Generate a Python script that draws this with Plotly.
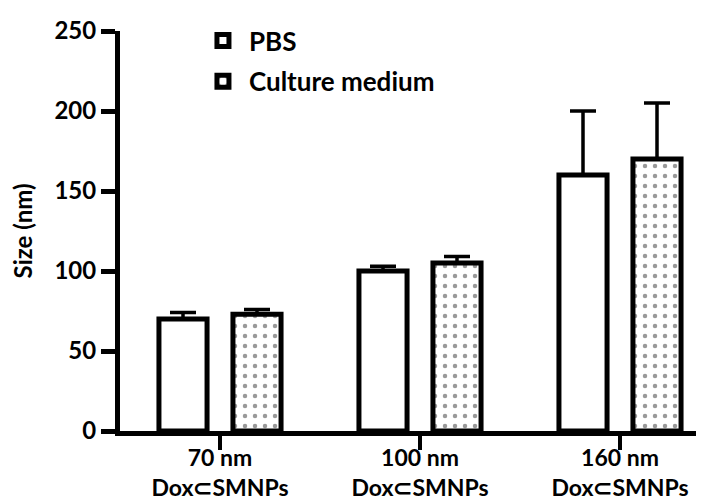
import plotly.graph_objects as go

categories = ["70 nm<br>Dox⊂SMNPs", "100 nm<br>Dox⊂SMNPs", "160 nm<br>Dox⊂SMNPs"]
series_names = ["PBS", "Culture medium"]
pbs_values = [70, 100, 160]
pbs_errors = [4, 3, 40]
cm_values = [73, 105, 170]
cm_errors = [3, 4, 35]
y_ticks = [0, 50, 100, 150, 200, 250]

FONT = "Lato"

fig = go.Figure()
fig.add_trace(go.Bar(
    x=categories, y=pbs_values, name=series_names[0],
    marker=dict(color="white", line=dict(color="black", width=5)),
    error_y=dict(type="data", array=pbs_errors, arrayminus=[0]*3, symmetric=False,
                 color="black", thickness=3.5, width=13),
    legendgroup="a",
))
fig.add_trace(go.Bar(
    x=categories, y=cm_values, name=series_names[1],
    marker=dict(color="white", line=dict(color="black", width=5),
                pattern=dict(shape=".", fgcolor="#333333", bgcolor="white", size=10, solidity=0.16)),
    error_y=dict(type="data", array=cm_errors, arrayminus=[0]*3, symmetric=False,
                 color="black", thickness=3.5, width=13),
    legendgroup="b",
))

fig.update_layout(
    width=704, height=499,
    margin=dict(l=112, r=0, t=23, b=76, autoexpand=False),
    paper_bgcolor="white", plot_bgcolor="white",
    barmode="group", bargap=0.26, bargroupgap=0.35,
    font=dict(family=FONT, color="black", size=22),
    showlegend=True,
    legend=dict(x=0.13, y=1.035, xanchor="left", yanchor="top",
                font=dict(family=FONT, size=26, color="black", weight="bold"),
                itemwidth=42,
                tracegroupgap=4, bgcolor="rgba(0,0,0,0)"),
)
fig.update_xaxes(
    range=[-0.5, 2.46], showline=True, linecolor="black", linewidth=5,
    ticks="outside", ticklen=14, tickwidth=4, tickcolor="black",
    tickfont=dict(family=FONT, size=23, weight="bold"),
    ticklabelstandoff=-12,
    showgrid=False, zeroline=False,
)
fig.update_yaxes(
    range=[0, 250], tickvals=y_ticks, showline=True, linecolor="black", linewidth=5,
    ticks="outside", ticklen=14, tickwidth=5, tickcolor="black",
    tickfont=dict(family=FONT, size=24, weight="bold"),
    title=dict(text="Size (nm)", font=dict(family=FONT, size=24, weight="bold"), standoff=18),
    showgrid=False, zeroline=False,
)

fig.write_html("out.html")
